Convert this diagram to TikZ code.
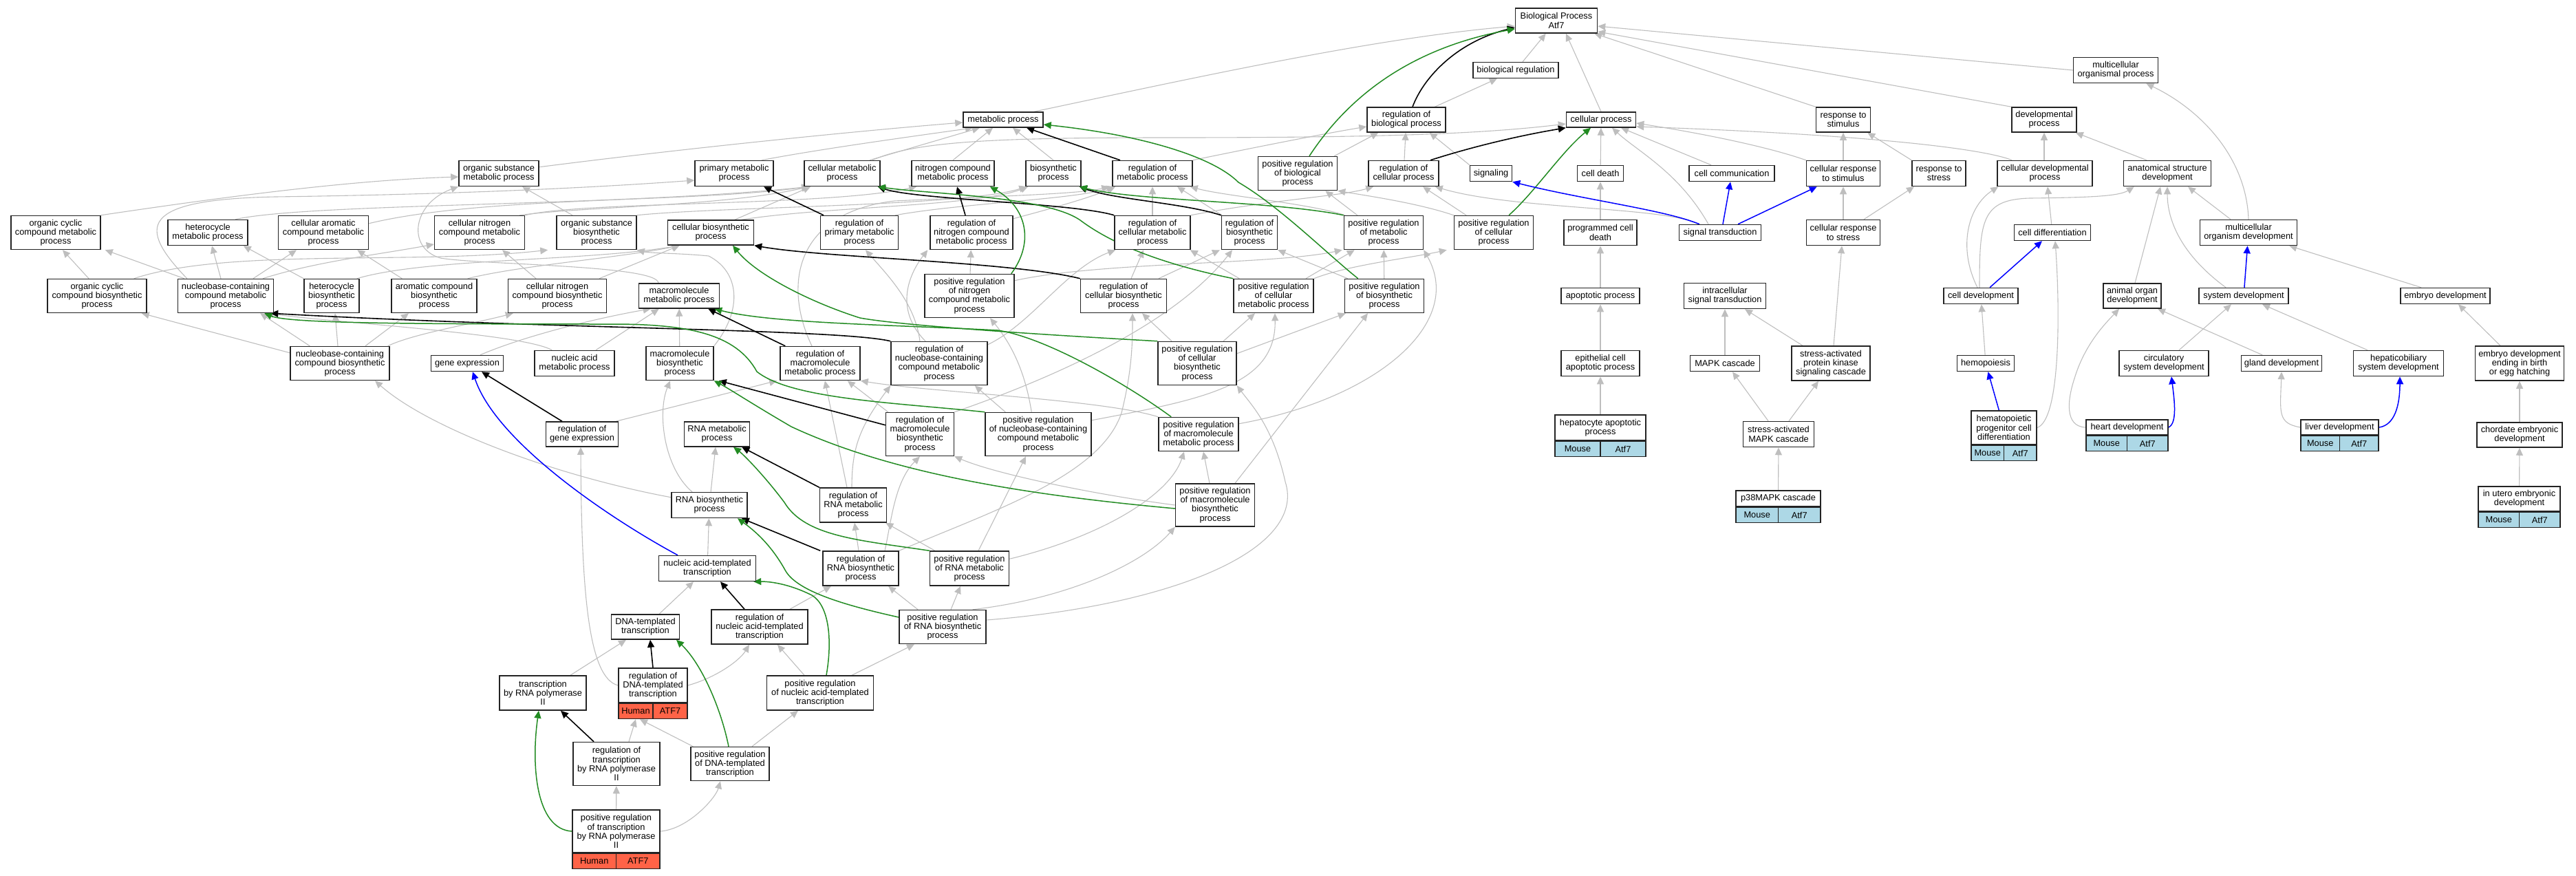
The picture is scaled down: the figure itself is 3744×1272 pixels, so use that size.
\documentclass[tikz,border=0pt]{standalone}
\usepackage{fontspec}
\setmainfont{Liberation Sans}
\usetikzlibrary{arrows.meta}
\definecolor{gvgray}{RGB}{190,190,190}
\definecolor{gvgreen}{RGB}{34,139,34}
\definecolor{gvblue}{RGB}{0,0,255}
\definecolor{mouseblue}{RGB}{173,216,230}
\definecolor{humanred}{RGB}{255,99,71}
\definecolor{boxline}{RGB}{35,35,35}
\newcommand\gvf{\fontsize{12.8}{13.2}\selectfont}
\newcommand\gvn[6]{\node[gv,minimum width=#4,minimum height=#5] (#1) at (#2,#3) {#6};}
\newcommand\gvann[5]{%
 \node[gvcell,fill=#2,minimum width=#3,anchor=north west] (#1l) at (#1.south west) {#4};
 \node[gvcell,fill=#2,minimum width=#3,anchor=north east] (#1r) at (#1.south east) {#5};}
\pgfdeclarelayer{bg}
\pgfsetlayers{bg,main}
\tikzset{
 gv/.style={draw=boxline,line width=1.5pt,fill=white,align=center,inner sep=0pt,font=\gvf},
 gvcell/.style={draw=boxline,line width=1.5pt,minimum height=22,inner sep=0pt,font=\gvf},
 ga/.style={draw=gvgray,line width=1.1pt,-{Triangle[length=11pt,width=10pt]}},
 gb/.style={draw=black,line width=1.6pt,-{Triangle[length=11pt,width=10pt]}},
 gg/.style={draw=gvgreen,line width=1.5pt,-{Triangle[length=11pt,width=10pt]}},
 gu/.style={draw=gvblue,line width=1.5pt,-{Triangle[length=11pt,width=10pt]}},
}
\begin{document}
\begin{tikzpicture}[x=1pt,y=-1pt]
\useasboundingbox (0,0) rectangle (3744,1272);
% ---------- nodes ----------
\gvn{bp}{2262}{30}{119}{36}{Biological Process\\Atf7}
\gvn{breg}{2203}{102}{124}{23}{biological regulation}
\gvn{mop}{3075}{102}{123}{37}{multicellular\\organismal process}
\gvn{mp}{1458}{174}{116}{22}{metabolic process}
\gvn{rbp}{2044}{174}{114}{36}{regulation of\\biological process}
\gvn{cp}{2327}{174}{101}{22}{cellular process}
\gvn{rts}{2679}{174}{79}{36}{response to\\stimulus}
\gvn{dp}{2971}{174}{94}{36}{developmental\\process}
\gvn{osmp}{725}{252}{116}{37}{organic substance\\metabolic process}
\gvn{pmp}{1067}{252}{114}{37}{primary metabolic\\process}
\gvn{cmp}{1224}{252}{110}{37}{cellular metabolic\\process}
\gvn{ncmp}{1385}{252}{120}{37}{nitrogen compound\\metabolic process}
\gvn{bsp}{1531}{252}{80}{37}{biosynthetic\\process}
\gvn{rmp}{1675}{252}{116}{37}{regulation of\\metabolic process}
\gvn{prbp}{1886}{252}{115}{49}{positive regulation\\of biological\\process}
\gvn{rcp}{2040}{252}{102}{37}{regulation of\\cellular process}
\gvn{sig}{2167}{252}{61}{23}{signaling}
\gvn{cd}{2326}{252}{67}{23}{cell death}
\gvn{cc}{2517}{252}{124}{23}{cell communication}
\gvn{crs}{2679}{252}{107}{37}{cellular response\\to stimulus}
\gvn{rst}{2818}{252}{78}{37}{response to\\stress}
\gvn{cdp}{2972}{252}{138}{37}{cellular developmental\\process}
\gvn{asd}{3150}{252}{127}{37}{anatomical structure\\development}
\gvn{occmp}{81}{338}{130}{49}{organic cyclic\\compound metabolic\\process}
\gvn{hmp}{302}{338}{116}{37}{heterocycle\\metabolic process}
\gvn{cacmp}{470}{338}{131}{49}{cellular aromatic\\compound metabolic\\process}
\gvn{cncmp}{697}{338}{131}{49}{cellular nitrogen\\compound metabolic\\process}
\gvn{osbp}{867}{338}{116}{49}{organic substance\\biosynthetic\\process}
\gvn{cbp}{1033}{338}{125}{36}{cellular biosynthetic\\process}
\gvn{rpmp}{1249}{338}{113}{49}{regulation of\\primary metabolic\\process}
\gvn{rncmp}{1412}{338}{120}{49}{regulation of\\nitrogen compound\\metabolic process}
\gvn{rcmp}{1675}{338}{110}{49}{regulation of\\cellular metabolic\\process}
\gvn{rbsp}{1816}{338}{81}{49}{regulation of\\biosynthetic\\process}
\gvn{prmp}{2011}{338}{115}{49}{positive regulation\\of metabolic\\process}
\gvn{prcp}{2171}{338}{115}{49}{positive regulation\\of cellular\\process}
\gvn{pcd}{2326}{338}{106}{37}{programmed cell\\death}
\gvn{st}{2500}{338}{119}{23}{signal transduction}
\gvn{crst}{2679}{338}{107}{37}{cellular response\\to stress}
\gvn{cdiff}{2983}{338}{111}{23}{cell differentiation}
\gvn{mod}{3268}{338}{141}{37}{multicellular\\organism development}
\gvn{occbp}{141}{430}{144}{49}{organic cyclic\\compound biosynthetic\\process}
\gvn{nccmp}{328}{430}{139}{49}{nucleobase-containing\\compound metabolic\\process}
\gvn{hbp}{482}{430}{80}{49}{heterocycle\\biosynthetic\\process}
\gvn{acbp}{631}{430}{124}{49}{aromatic compound\\biosynthetic\\process}
\gvn{cncbp}{810}{430}{143}{49}{cellular nitrogen\\compound biosynthetic\\process}
\gvn{mmp}{987}{430}{117}{36}{macromolecule\\metabolic process}
\gvn{prncmp}{1409}{430}{130}{63}{positive regulation\\of nitrogen\\compound metabolic\\process}
\gvn{rcbp}{1633}{430}{125}{49}{regulation of\\cellular biosynthetic\\process}
\gvn{prcmp}{1851}{430}{116}{49}{positive regulation\\of cellular\\metabolic process}
\gvn{prbsp}{2012}{430}{115}{49}{positive regulation\\of biosynthetic\\process}
\gvn{ap}{2326}{430}{114}{23}{apoptotic process}
\gvn{ist}{2507}{430}{119}{37}{intracellular\\signal transduction}
\gvn{cdev}{2879}{430}{108}{23}{cell development}
\gvn{aod}{3099}{430}{84}{36}{animal organ\\development}
\gvn{sd}{3261}{430}{130}{23}{system development}
\gvn{ed}{3554}{430}{130}{23}{embryo development}
\gvn{nccbp}{494}{528}{144}{49}{nucleobase-containing\\compound biosynthetic\\process}
\gvn{ge}{679}{528}{105}{23}{gene expression}
\gvn{namp}{835}{528}{116}{37}{nucleic acid\\metabolic process}
\gvn{mbp}{988}{528}{98}{49}{macromolecule\\biosynthetic\\process}
\gvn{rmmp}{1192}{528}{116}{49}{regulation of\\macromolecule\\metabolic process}
\gvn{rnccmp}{1365}{528}{140}{63}{regulation of\\nucleobase-containing\\compound metabolic\\process}
\gvn{prcbp}{1740}{528}{114}{63}{positive regulation\\of cellular\\biosynthetic\\process}
\gvn{ecap}{2326}{528}{114}{37}{epithelial cell\\apoptotic process}
\gvn{mapk}{2507}{528}{101}{23}{MAPK cascade}
\gvn{sapk}{2661}{528}{114}{50}{stress-activated\\protein kinase\\signaling cascade}
\gvn{hemo}{2886}{528}{83}{23}{hemopoiesis}
\gvn{csd}{3145}{528}{130}{37}{circulatory\\system development}
\gvn{gd}{3316}{528}{117}{23}{gland development}
\gvn{hsd}{3486}{528}{131}{37}{hepaticobiliary\\system development}
\gvn{edeb}{3662}{528}{129}{50}{embryo development\\ending in birth\\or egg hatching}
\gvn{rge}{846}{631}{105}{36}{regulation of\\gene expression}
\gvn{rnamp}{1042}{631}{95}{36}{RNA metabolic\\process}
\gvn{rmbp}{1337}{631}{99}{63}{regulation of\\macromolecule\\biosynthetic\\process}
\gvn{prnccmp}{1509}{631}{154}{63}{positive regulation\\of nucleobase-containing\\compound metabolic\\process}
\gvn{prmmp}{1742}{631}{116}{49}{positive regulation\\of macromolecule\\metabolic process}
\gvn{hap}{2326}{621.5}{132}{37}{hepatocyte apoptotic\\process}
\gvann{hap}{mouseblue}{66}{Mouse}{Atf7}
\gvn{samapk}{2585}{631}{103}{37}{stress-activated\\MAPK cascade}
\gvn{hpcd}{2912.5}{621.5}{95}{49}{hematopoietic\\progenitor cell\\differentiation}
\gvann{hpcd}{mouseblue}{47.5}{Mouse}{Atf7}
\gvn{hd}{3091.5}{621}{119}{22}{heart development}
\gvann{hd}{mouseblue}{59.5}{Mouse}{Atf7}
\gvn{ld}{3400.5}{621}{113}{22}{liver development}
\gvann{ld}{mouseblue}{56.5}{Mouse}{Atf7}
\gvn{ced}{3662}{632}{124}{36}{chordate embryonic\\development}
\gvn{rnabp}{1031}{734}{110}{37}{RNA biosynthetic\\process}
\gvn{rrnamp}{1240}{734}{97}{50}{regulation of\\RNA metabolic\\process}
\gvn{prmbp}{1766}{734}{115}{62}{positive regulation\\of macromolecule\\biosynthetic\\process}
\gvn{p38}{2584.5}{724.5}{123}{23}{p38MAPK cascade}
\gvann{p38}{mouseblue}{61.5}{Mouse}{Atf7}
\gvn{iued}{3661.5}{725}{119}{36}{in utero embryonic\\development}
\gvann{iued}{mouseblue}{59.5}{Mouse}{Atf7}
\gvn{natt}{1028}{826}{141}{37}{nucleic acid-templated\\transcription}
\gvn{rrnabp}{1251}{826}{110}{50}{regulation of\\RNA biosynthetic\\process}
\gvn{prrnamp}{1409}{826}{115}{50}{positive regulation\\of RNA metabolic\\process}
\gvn{dtt}{938}{911}{99}{36}{DNA-templated\\transcription}
\gvn{rnatt}{1104}{911}{140}{50}{regulation of\\nucleic acid-templated\\transcription}
\gvn{prrnabp}{1370}{911}{126}{49}{positive regulation\\of RNA biosynthetic\\process}
\gvn{trp2}{789}{1007}{126}{50}{transcription\\by RNA polymerase\\II}
\gvn{rdtt}{949}{996}{100}{50}{regulation of\\DNA-templated\\transcription}
\gvann{rdtt}{humanred}{50}{Human}{ATF7}
\gvn{prnatt}{1192}{1007}{155}{50}{positive regulation\\of nucleic acid-templated\\transcription}
\gvn{rtrp2}{896}{1110}{126}{63}{regulation of\\transcription\\by RNA polymerase\\II}
\gvn{prdtt}{1061}{1110}{114}{49}{positive regulation\\of DNA-templated\\transcription}
\gvn{prtrp2}{895.5}{1208}{127}{62}{positive regulation\\of transcription\\by RNA polymerase\\II}
\gvann{prtrp2}{humanred}{63.5}{Human}{ATF7}
% ---------- edges ----------
\begin{pgfonlayer}{bg}
% top
\draw[ga] (breg) -- (bp);
\draw[ga] ([xshift=45]mp.north) .. controls (1750,110) and (2000,55) .. ([yshift=-8]bp.west);
\draw[ga] (cp.north) -- ([xshift=14]bp.south);
\draw[ga] (rts.north west) -- ([xshift=-5]bp.south east);
\draw[ga] (dp.north west) -- ([yshift=-16]bp.east);
\draw[ga] (mop.west) -- ([yshift=-8]bp.east);
\draw[ga] (rbp) -- (breg);
\draw[ga] ([yshift=-10]osmp.north east) .. controls (1000,215) and (1250,190) .. ([yshift=-4]mp.west);
\draw[ga] ([xshift=40]pmp.north) .. controls (1200,215) and (1350,195) .. ([xshift=-44]mp.south);
\draw[ga] ([xshift=40]cmp.north) -- ([xshift=-34]mp.south);
\draw[ga] (ncmp.north) -- ([xshift=-15]mp.south);
\draw[ga] (bsp.north) -- ([xshift=14]mp.south);
\draw[ga] ([xshift=44]cmp.north) .. controls (1330,205) and (1450,200) .. (1700,200) .. controls (2000,200) and (2150,195) .. ([yshift=-6]cp.west);
\draw[ga] ([xshift=-5]prbp.north east) -- ([xshift=17]rbp.south west);
\draw[ga] (rmp.north east) .. controls (1820,215) and (1920,195) .. ([yshift=-10]rbp.west);
\draw[ga] (rcp) -- (rbp);
\draw[ga] (sig.north west) -- ([xshift=-24]rbp.south east);
\draw[ga] (cd) -- (cp);
\draw[ga] ([xshift=-30]cc.north) -- ([xshift=29]cp.south);
\draw[ga] (crs.north west) .. controls (2560,210) and (2450,190) .. ([yshift=-5]cp.east);
\draw[ga] ([xshift=22]cdp.north west) .. controls (2880,215) and (2700,195) .. ([yshift=-10]cp.east);
\draw[ga] ([xshift=-17]st.north) .. controls (2440,250) and (2380,220) .. ([xshift=16]cp.south);
\draw[ga] (crs) -- (rts);
\draw[ga] (rst.north west) -- ([xshift=-5]rts.south east);
\draw[ga] ([xshift=-1]cdp.north) -- (dp.south);
\draw[ga] ([xshift=-30]asd.north) -- ([xshift=-2]dp.south east);
\draw[ga] (mod.north) .. controls (3265,230) and (3200,160) .. ([xshift=-18]mop.south east);
\draw[ga] ([xshift=-26]mod.north) -- ([xshift=30]asd.south);
% metabolic left
\draw[ga] (occmp.north east) .. controls (300,290) and (500,262) .. ([yshift=-5]osmp.west);
\draw[ga] ([xshift=40]hmp.north) .. controls (450,295) and (900,300) .. ([xshift=8]cmp.south west);
\draw[ga] ([yshift=-12]cacmp.north east) .. controls (700,285) and (1000,295) .. ([xshift=8]cmp.south west);
\draw[ga] ([xshift=-8]cncmp.north east) .. controls (850,300) and (1050,300) .. ([xshift=8]cmp.south west);
\draw[ga] (cncmp.north east) .. controls (850,292) and (1200,300) .. ([xshift=8]ncmp.south west);
\draw[ga] ([xshift=-35]osbp.north) -- ([xshift=34]osmp.south);
\draw[ga] (osbp.north east) .. controls (1050,300) and (1400,300) .. ([xshift=2]bsp.south west);
\draw[ga] ([xshift=35]cbp.north) -- ([xshift=10]cmp.south west);
\draw[ga] ([xshift=45]cbp.north) .. controls (1200,300) and (1420,300) .. ([xshift=4]bsp.south west);
\draw[ga] ([xshift=-5]rpmp.north east) .. controls (1400,295) and (1560,290) .. ([xshift=3]rmp.south west);
\draw[ga] ([yshift=-5]rncmp.north east) .. controls (1540,300) and (1590,285) .. ([xshift=5]rmp.south west);
\draw[ga] (rcmp) -- (rmp);
\draw[ga] (rcmp.north east) .. controls (1850,290) and (1950,285) .. ([xshift=8]rcp.south west);
\draw[ga] ([xshift=-40]rbsp.north) -- ([xshift=36]rmp.south);
\draw[ga] ([xshift=2]prmp.north west) .. controls (1900,295) and (1780,285) .. ([xshift=-4]rmp.south east);
\draw[ga] ([xshift=20]prmp.north west) -- ([xshift=-18]prbp.south east);
\draw[ga] (prcp.north west) .. controls (2060,295) and (1990,285) .. (prbp.south east);
\draw[ga] ([xshift=-40]prcp.north) -- ([xshift=28]rcp.south);
\draw[ga] ([xshift=-32]st.north) .. controls (2420,300) and (2200,305) .. ([xshift=-6]rcp.south east);
\draw[ga] (pcd) -- (cd);
\draw[ga] (ap) -- (pcd);
\draw[ga] (crst) -- (crs);
\draw[ga] ([xshift=30]crst.north) -- ([xshift=-36]rst.south);
\draw[ga] (cdiff) -- ([xshift=4]cdp.south);
\draw[ga] ([xshift=-12]occbp.north) -- ([xshift=10]occmp.south);
\draw[ga] ([xshift=-19]occbp.north east) .. controls (330,360) and (600,385) .. ([xshift=-12]osbp.south west);
\draw[ga] ([xshift=10]nccmp.north west) -- ([xshift=6]occmp.south east);
\draw[ga] ([xshift=-7]nccmp.north) -- ([xshift=6]hmp.south);
\draw[ga] ([xshift=40]nccmp.north) -- ([xshift=-39]cacmp.south);
\draw[ga] ([xshift=54]nccmp.north) .. controls (460,380) and (550,370) .. ([yshift=-17]cncmp.west);
\draw[ga] ([xshift=14]nccmp.north west) .. controls (200,330) and (200,290) .. (400,286) .. controls (700,282) and (900,270) .. ([yshift=-10]pmp.west);
\draw[ga] (hbp.north west) -- ([xshift=-7]hmp.south east);
\draw[ga] ([xshift=-4]hbp.north east) .. controls (620,375) and (850,380) .. ([xshift=18]cbp.south west);
\draw[ga] ([xshift=16]acbp.north west) -- ([xshift=-17]cacmp.south east);
\draw[ga] ([xshift=-14]acbp.north east) .. controls (760,385) and (900,375) .. ([xshift=18]cbp.south west);
\draw[ga] ([xshift=-31]cncbp.north) -- ([xshift=33]cncmp.south);
\draw[ga] ([xshift=61]cncbp.north) -- ([xshift=18]cbp.south west);
\draw[ga] ([xshift=-30]mmp.north) .. controls (955,385) and (700,385) .. (640,375) .. controls (590,360) and (600,295) .. (osmp.south west);
\draw[ga] (mbp.north east) .. controls (1080,450) and (1075,395) .. (1030,372) .. controls (990,368) and (945,368) .. (osbp.south east);
\draw[ga] (mbp) -- (mmp);
\draw[ga] ([xshift=29]nccbp.north west) -- ([xshift=-20]nccmp.south east);
\draw[ga] ([yshift=-10]nccbp.north west) -- ([xshift=-8]occbp.south east);
\draw[ga] ([xshift=-3]nccbp.north) -- ([xshift=5]hbp.south);
\draw[ga] ([xshift=37]nccbp.north) -- ([xshift=-37]acbp.south);
\draw[ga] ([xshift=-3]nccbp.north east) .. controls (600,485) and (690,470) .. ([xshift=8]cncbp.south west);
\draw[ga] ([xshift=19]ge.north) .. controls (770,485) and (880,460) .. ([xshift=18]mmp.south west);
\draw[ga] ([xshift=26]namp.north west) .. controls (760,485) and (500,470) .. ([xshift=-12]nccmp.south east);
\draw[ga] ([xshift=31]namp.north) -- ([xshift=30]mmp.south west);
\draw[ga] ([xshift=-12]rmmp.north) .. controls (1140,420) and (1150,310) .. (1300,292) .. controls (1450,285) and (1570,282) .. ([xshift=-4]rmp.south west);
\draw[ga] ([xshift=-4]rge.north east) -- ([xshift=-4]rmmp.south west);
\draw[ga] ([xshift=-28]rnccmp.north) .. controls (1330,440) and (1290,400) .. ([xshift=9]rpmp.south);
\draw[ga] ([xshift=-20]rnccmp.north) .. controls (1300,450) and (1320,400) .. ([xshift=-3]rncmp.south west);
\draw[ga] ([yshift=-5]rnccmp.north east) .. controls (1500,470) and (1550,390) .. ([xshift=2]rcmp.south west);
\draw[ga] ([xshift=4]rmbp.north west) -- ([xshift=-19]rmmp.south east);
\draw[ga] (rmbp.north east) .. controls (1500,560) and (1700,480) .. ([xshift=-25]rbsp.south);
\draw[ga] (prncmp) -- (rncmp);
\draw[ga] ([yshift=-10]prncmp.north east) .. controls (1600,380) and (1850,385) .. ([xshift=-2]prmp.south west);
\draw[ga] ([xshift=11]rcbp.north) -- ([xshift=-13]rcmp.south);
\draw[ga] ([xshift=51]rcbp.north) -- ([xshift=-43]rbsp.south);
\draw[ga] ([xshift=9]prcmp.north west) -- ([xshift=-1]rcmp.south east);
\draw[ga] ([xshift=47]prcmp.north) -- ([xshift=16]prmp.south west);
\draw[ga] (prcmp.north east) .. controls (1960,385) and (2050,375) .. ([xshift=-10]prcp.south west);
\draw[ga] ([xshift=5]prbsp.north west) -- (rbsp.south east);
\draw[ga] (prbsp) -- (prmp);
\draw[ga] ([xshift=-37]prcbp.north) -- ([xshift=27]rcbp.south);
\draw[ga] ([xshift=38]prcbp.north) -- ([xshift=-27]prcmp.south);
\draw[ga] ([yshift=-18]prcbp.north east) -- ([xshift=2]prbsp.south west);
\draw[ga] ([xshift=30]prnccmp.north west) -- ([xshift=-19]rnccmp.south east);
\draw[ga] ([xshift=68]prnccmp.north west) .. controls (1490,540) and (1470,500) .. ([xshift=30]prncmp.south);
\draw[ga] ([yshift=-12]prnccmp.north east) .. controls (1750,580) and (1855,560) .. ([xshift=2]prcmp.south);
\draw[ga] (prmmp.north west) .. controls (1600,580) and (1350,570) .. (rmmp.south east);
\draw[ga] ([yshift=-10]prmmp.north east) .. controls (2000,580) and (2130,470) .. (prmp.south east);
\draw[ga] (prmbp.west) .. controls (1600,720) and (1450,690) .. (rmbp.south east);
\draw[ga] ([xshift=-8]prmbp.north) -- ([xshift=7]prmmp.south);
\draw[ga] ([xshift=29]prmbp.north) -- ([xshift=-24]prbsp.south);
\draw[ga] ([xshift=8]prrnamp.north west) -- ([xshift=-2]rrnamp.south east);
\draw[ga] ([xshift=13]prrnamp.north) -- ([xshift=-18]prnccmp.south);
\draw[ga] ([yshift=-12]prrnamp.north east) .. controls (1600,780) and (1700,720) .. ([xshift=-21]prmmp.south);
\draw[ga] ([xshift=-2]rrnamp.north) .. controls (1238,650) and (1250,620) .. (rnccmp.south west);
\draw[ga] ([xshift=-9]rrnamp.north) -- ([xshift=7]rmmp.south);
\draw[ga] (rnabp) -- (rnamp);
\draw[ga] ([xshift=-25]rnabp.north) .. controls (965,680) and (955,600) .. ([xshift=-14]mbp.south);
\draw[ga] ([yshift=-8]rnabp.north west) .. controls (800,690) and (620,620) .. ([xshift=51]nccbp.south);
\draw[ga] (natt) -- (rnabp);
\draw[ga] ([xshift=-3]rrnabp.north) -- ([xshift=2]rrnamp.south);
\draw[ga] ([xshift=35]rrnabp.north) .. controls (1295,760) and (1300,700) .. (rmbp.south);
\draw[ga] (rrnabp.north east) .. controls (1450,740) and (1600,690) .. (1630,600) .. controls (1645,540) and (1646,500) .. ([xshift=13]rcbp.south);
\draw[ga] ([xshift=20]dtt.north) -- ([xshift=-20]natt.south);
\draw[ga] ([xshift=44]rnatt.north) -- ([xshift=-43]rrnabp.south);
\draw[ga] ([xshift=-36]prrnabp.north) -- ([xshift=40]rrnabp.south);
\draw[ga] ([xshift=12]prrnabp.north) -- ([xshift=-13]prrnamp.south);
\draw[ga] ([xshift=-20]prrnabp.north east) .. controls (1550,870) and (1660,820) .. (prmbp.south west);
\draw[ga] ([yshift=10]prrnabp.east) .. controls (1700,880) and (1900,800) .. (1868,700) .. controls (1850,620) and (1820,590) .. (prcbp.south east);
\draw[ga] ([xshift=40]trp2.north) -- ([xshift=-28]dtt.south);
\draw[ga] (rdtt.east) .. controls (1040,985) and (1075,960) .. ([xshift=-15]rnatt.south);
\draw[ga] (rdtt.west) .. controls (855,985) and (845,860) .. ([xshift=-2]rge.south);
\draw[ga] ([xshift=-23]prnatt.north) -- ([xshift=26]rnatt.south);
\draw[ga] ([xshift=46]prnatt.north) -- ([xshift=-41]prrnabp.south);
\draw[ga] ([xshift=18]rtrp2.north) -- (rdttl.south);
\draw[ga] ([xshift=4]prdtt.north west) -- ([xshift=6]rdttl.south);
\draw[ga] ([xshift=32]prdtt.north) -- ([xshift=-32]prnatt.south);
\draw[ga] (prtrp2) -- (rtrp2);
\draw[ga] (prtrp2.east) .. controls (1000,1205) and (1040,1160) .. ([xshift=-14]prdtt.south);
% right side
\draw[ga] ([xshift=-5]cdev.north) .. controls (2845,360) and (2860,300) .. ([xshift=2]cdp.south west);
\draw[ga] ([xshift=-2]cdev.north) .. controls (2877,320) and (2880,290) .. (2950,288) .. controls (3040,287) and (3080,285) .. ([xshift=16]asd.south west);
\draw[ga] ([xshift=4]aod.north) -- ([xshift=-10]asd.south);
\draw[ga] ([xshift=-26]sd.north) .. controls (3170,370) and (3150,320) .. (asd.south);
\draw[ga] ([xshift=-35]ed.north) -- ([xshift=-12]mod.south east);
\draw[ga] (hpcd.east) .. controls (2995,610) and (2994,450) .. ([xshift=4]cdiff.south);
\draw[ga] (hemo) -- (cdev);
\draw[ga] (ecap) -- (ap);
\draw[ga] (hap) -- (ecap);
\draw[ga] (mapk) -- (ist);
\draw[ga] ([xshift=-41]sapk.north) -- ([xshift=29]ist.south);
\draw[ga] ([xshift=4]sapk.north) -- ([xshift=-2]crst.south);
\draw[ga] ([xshift=-15]samapk.north) -- ([xshift=11]mapk.south);
\draw[ga] ([xshift=15]samapk.north) -- ([xshift=-18]sapk.south);
\draw[ga] (p38) -- (samapk);
\draw[ga] (hd.west) .. controls (3000,620) and (3005,580) .. (3015,550) .. controls (3030,500) and (3060,470) .. ([xshift=-19]aod.south);
\draw[ga] ([xshift=22]csd.north) -- ([xshift=-18]sd.south);
\draw[ga] ([xshift=-28]gd.north) -- ([xshift=37]aod.south);
\draw[ga] (ld.west) .. controls (3310,615) and (3314,600) .. (gd.south);
\draw[ga] ([xshift=-45]hsd.north) -- ([xshift=27]sd.south);
\draw[ga] ([xshift=-28]edeb.north) -- ([xshift=19]ed.south);
\draw[ga] (ced) -- (edeb);
\draw[ga] (iued) -- (ced);
% black (regulates)
\draw[gb] ([xshift=9]rbp.north) .. controls (2070,110) and (2120,60) .. ([yshift=-10]bp.west);
\draw[gb] ([xshift=-47]rmp.north) -- ([xshift=34]mp.south);
\draw[gb] ([xshift=39]rcp.north) .. controls (2150,210) and (2220,195) .. (cp.south west);
\draw[gb] ([xshift=-52]rpmp.north) -- ([xshift=43]pmp.south);
\draw[gb] ([xshift=-9]rncmp.north) -- ([xshift=6]ncmp.south);
\draw[gb] (rbsp.north west) .. controls (1720,295) and (1620,290) .. ([xshift=-3]bsp.south east);
\draw[gb] (rcmp.north west) .. controls (1560,295) and (1330,290) .. ([xshift=-4]cmp.south east);
\draw[gb] (rcbp.north west) .. controls (1470,380) and (1200,375) .. (cbp.south east);
\draw[gb] (rnccmp.north west) .. controls (1220,478) and (800,478) .. ([xshift=-5]nccmp.south east);
\draw[gb] ([xshift=8]rmmp.north west) -- ([xshift=-17]mmp.south east);
\draw[gb] ([xshift=-29]rge.north) -- ([xshift=21]ge.south);
\draw[gb] ([yshift=-19]rmbp.north west) -- ([xshift=7]mbp.south east);
\draw[gb] (rrnamp.north west) -- ([xshift=-12]rnamp.south east);
\draw[gb] ([xshift=-3]rrnabp.north west) -- ([xshift=-9]rnabp.south east);
\draw[gb] ([xshift=-22]rnatt.north) -- ([xshift=19]natt.south);
\draw[gb] (rdtt.north) -- ([xshift=7]dtt.south);
\draw[gb] ([xshift=-33]rtrp2.north) -- ([xshift=26]trp2.south);
% green (positively regulates)
\draw[gg] ([xshift=17]prbp.north) .. controls (1960,140) and (2050,70) .. ([yshift=-12]bp.west);
\draw[gg] (prmp.north west) .. controls (1850,292) and (1650,292) .. ([xshift=-3]bsp.south east);
\draw[gg] ([xshift=20]prbsp.north west) .. controls (1930,370) and (1860,300) .. (1800,265) .. controls (1760,225) and (1650,195) .. ([yshift=-7]mp.east);
\draw[gg] ([xshift=22]prcp.north) .. controls (2230,280) and (2270,220) .. ([xshift=-15]cp.south);
\draw[gg] ([xshift=-5]prncmp.north east) .. controls (1505,350) and (1490,300) .. ([xshift=-7]ncmp.south east);
\draw[gg] (prcmp.north west) .. controls (1720,390) and (1630,365) .. (1570,320) .. controls (1520,285) and (1350,282) .. ([xshift=-4]cmp.south east);
\draw[gg] (prcbp.north west) .. controls (1580,490) and (1320,475) .. (1250,462) .. controls (1180,440) and (1100,400) .. ([xshift=32]cbp.south);
\draw[gg] (prnccmp.north west) .. controls (1300,585) and (1150,580) .. (1100,540) .. controls (1070,485) and (1000,472) .. (900,471) .. controls (600,471) and (420,470) .. ([xshift=-14]nccmp.south east);
\draw[gg] ([xshift=19]prmmp.north west) .. controls (1640,560) and (1520,490) .. (1450,480) .. controls (1300,472) and (1120,470) .. ([xshift=-8]mmp.south east);
\draw[gg] ([yshift=-5]prmbp.west) .. controls (1500,720) and (1300,690) .. (1150,620) .. controls (1090,585) and (1060,565) .. (mbp.south east);
\draw[gg] (prrnamp.north west) .. controls (1250,785) and (1170,780) .. (1140,730) .. controls (1110,690) and (1080,660) .. ([xshift=24]rnamp.south);
\draw[gg] ([yshift=14]prrnabp.west) .. controls (1230,880) and (1160,860) .. (1142,830) .. controls (1120,790) and (1095,770) .. ([xshift=41]rnabp.south);
\draw[gg] ([xshift=9]prnatt.north) .. controls (1210,930) and (1205,880) .. (1180,865) .. controls (1140,845) and (1110,845) .. ([xshift=-4]natt.south east);
\draw[gg] ([xshift=-2]prdtt.north) .. controls (1048,1030) and (1020,965) .. ([xshift=45]dtt.south);
\draw[gg] (prtrp2.west) .. controls (778,1205) and (772,1110) .. ([xshift=-6]trp2.south);
% blue (part of)
\draw[gu] ([xshift=-30]st.north) .. controls (2420,305) and (2300,290) .. (sig.south east);
\draw[gu] ([xshift=4]st.north) -- ([xshift=-2]cc.south);
\draw[gu] ([xshift=26]st.north) -- ([xshift=16]crs.south west);
\draw[gu] ([xshift=-43]natt.north) .. controls (880,750) and (720,640) .. ([xshift=8]ge.south);
\draw[gu] ([xshift=13]cdev.north) -- ([xshift=-15]cdiff.south);
\draw[gu] (sd) -- (mod);
\draw[gu] (hpcd) -- (hemo);
\draw[gu] (hd.east) .. controls (3165,615) and (3160,580) .. ([xshift=11]csd.south);
\draw[gu] (ld.east) .. controls (3480,618) and (3488,590) .. ([xshift=2]hsd.south);
\end{pgfonlayer}
\end{tikzpicture}
\end{document}
